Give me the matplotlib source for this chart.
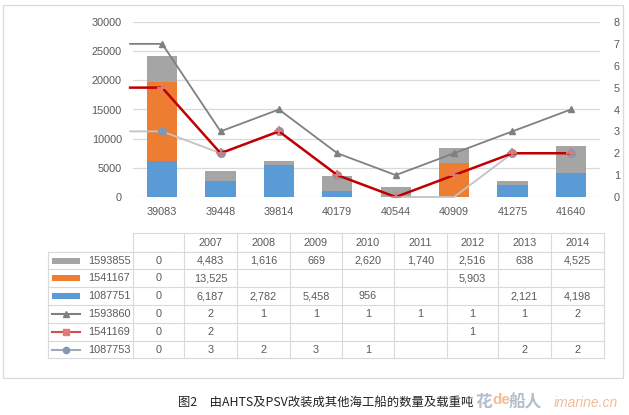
import matplotlib
matplotlib.use('Agg')
import matplotlib.pyplot as plt
import numpy as np

# ---------------- data ----------------
categories = ['39083', '39448', '39814', '40179', '40544', '40909', '41275', '41640']
years = ['2007', '2008', '2009', '2010', '2011', '2012', '2013', '2014']

series_names_bars = ['1593855', '1541167', '1087751']
bar_1593855 = [4483, 1616, 669, 2620, 1740, 2516, 638, 4525]
bar_1541167 = [13525, None, None, None, None, 5903, None, None]
bar_1087751 = [6187, 2782, 5458, 956, None, None, 2121, 4198]

series_names_lines = ['1593860', '1541169', '1087753']
line_1593860 = [2, 1, 1, 1, 1, 1, 1, 2]
line_1541169 = [2, None, None, None, None, 1, None, None]
line_1087753 = [3, 2, 3, 1, None, None, 2, 2]

first_col = '0'

# colours
c_gray_bar = '#A5A5A5'
c_orange = '#ED7D31'
c_blue = '#5B9BD5'
c_line_gray = '#808080'
c_line_red = '#C00000'
c_line_light = '#C3C3C3'
c_marker_light = '#8497B0'
c_text = '#595959'
c_grid = '#D9D9D9'

plt.rcParams['font.family'] = ['Liberation Sans', 'DejaVu Sans']

W, H = 629, 415
fig = plt.figure(figsize=(W / 100, H / 100), dpi=100)

def z(v):
    return np.array([0 if x is None else x for x in v], dtype=float)

# ---------------- chart ----------------
L, R, T, B = 133, 600, 22, 197
ax = fig.add_axes([L / W, 1 - B / H, (R - L) / W, (B - T) / H])
x = np.arange(len(categories))
b_blue = z(bar_1087751)
b_orange = z(bar_1541167)
b_gray = z(bar_1593855)
ax.bar(x, b_blue, width=0.52, color=c_blue, zorder=2)
ax.bar(x, b_orange, width=0.52, bottom=b_blue, color=c_orange, zorder=2)
ax.bar(x, b_gray, width=0.52, bottom=b_blue + b_orange, color=c_gray_bar, zorder=2)
ax.set_xlim(-0.5, len(categories) - 0.5)
ax.set_ylim(0, 30000)
ax.set_yticks(np.arange(0, 30001, 5000))
ax.set_xticks(x)
ax.set_xticklabels(categories)
ax.yaxis.grid(True, color=c_grid, lw=0.9, zorder=0)
ax.set_axisbelow(True)
for s in ax.spines.values():
    s.set_visible(False)
ax.tick_params(length=0, colors=c_text, labelsize=7.8)
ax.tick_params(axis='y', pad=8)
ax.tick_params(axis='x', pad=7)

ax2 = ax.twinx()
ax2.set_ylim(0, 8)
ax2.set_yticks(range(0, 9))
for s in ax2.spines.values():
    s.set_visible(False)
ax2.tick_params(length=0, colors=c_text, labelsize=7.8, pad=10)

l_light = z(line_1087753)
l_red = l_light + z(line_1541169)
l_gray = l_red + z(line_1593860)
xe = np.concatenate([[-0.55], x])

def ext(v):
    return np.concatenate([[v[0]], v])

ax2.plot(xe, ext(l_light), color=c_line_light, lw=1.3, zorder=3, clip_on=False)
mask = np.array([v is not None for v in line_1087753])
ax2.plot(x[mask], l_light[mask], 'o', color=c_marker_light, ms=5.5, zorder=4)
ax2.plot(xe, ext(l_red), color=c_line_red, lw=1.8, zorder=5, clip_on=False)
ax2.plot(x, l_red, '+', color='#E07B7B', ms=7, mew=1.3, zorder=6)
ax2.plot(xe, ext(l_gray), color=c_line_gray, lw=1.3, zorder=5, clip_on=False)
ax2.plot(x, l_gray, '^', color=c_line_gray, ms=5, zorder=6)

# ---------------- table & frame (pixel overlay) ----------------
ov = fig.add_axes([0, 0, 1, 1], zorder=-1)
ov.set_xlim(0, W)
ov.set_ylim(H, 0)
ov.axis('off')
ov.patch.set_alpha(0)

ov.add_patch(plt.Rectangle((3, 5), 620, 373, fill=False, ec='#D9D9D9', lw=0.9))

col_edges = [133, 184, 237, 290, 342, 394, 447, 498, 551, 604]
row_edges = [233, 252, 269, 287, 305, 323, 341, 358]
leg_left = 48
tc = '#D9D9D9'
ov.plot([col_edges[0], col_edges[-1]], [row_edges[0]] * 2, color=tc, lw=0.8)
for ry in row_edges[1:]:
    ov.plot([leg_left, col_edges[-1]], [ry, ry], color=tc, lw=0.8)
ov.plot([leg_left, leg_left], [row_edges[1], row_edges[-1]], color=tc, lw=0.8)
for cx in col_edges:
    ov.plot([cx, cx], [row_edges[0], row_edges[-1]], color=tc, lw=0.8)

centers = [(col_edges[i] + col_edges[i + 1]) / 2 for i in range(len(col_edges) - 1)]
ymid = [(row_edges[i] + row_edges[i + 1]) / 2 for i in range(len(row_edges) - 1)]
fs = 7.8
for cxp, yr in zip(centers[1:], years):
    ov.text(cxp, ymid[0], yr, ha='center', va='center', color=c_text, fontsize=fs)

rows = [
    (series_names_bars[0], bar_1593855, 'bar', c_gray_bar, None),
    (series_names_bars[1], bar_1541167, 'bar', c_orange, None),
    (series_names_bars[2], bar_1087751, 'bar', c_blue, None),
    (series_names_lines[0], line_1593860, 'line', c_line_gray, ('^', c_line_gray)),
    (series_names_lines[1], line_1541169, 'line', '#D05050', ('s', '#E07B7B')),
    (series_names_lines[2], line_1087753, 'line', '#A0A8B8', ('o', c_marker_light)),
]
for i, (name, vals, kind, col, mk) in enumerate(rows):
    yc = ymid[i + 1]
    if kind == 'bar':
        ov.add_patch(plt.Rectangle((52, yc - 3), 28, 6, color=col, lw=0))
    else:
        ov.plot([52, 80], [yc, yc], color=col, lw=1.5)
        ov.plot([66], [yc], mk[0], color=mk[1], ms=4.5)
    ov.text(88, yc, name, ha='left', va='center', color=c_text, fontsize=fs)
    ov.text(centers[0], yc, first_col, ha='center', va='center', color=c_text, fontsize=fs)
    for cxp, v in zip(centers[1:], vals):
        if v is not None:
            ov.text(cxp, yc, f'{v:,}', ha='center', va='center', color=c_text, fontsize=fs)

# caption and watermark
ov.text(178, 402, '图2　由AHTS及PSV改装成其他海工船的数量及载重吨', ha='left', va='center',
        fontsize=8.9, color='#222222', family=['Noto Sans CJK SC', 'DejaVu Sans'])
ov.text(475, 402, '花', ha='left', va='center', fontsize=12, color='#9AA8BC', alpha=0.75,
        family=['Noto Sans CJK SC'], fontweight='bold')
ov.text(492, 400, 'de', ha='left', va='center', fontsize=11, color='#F3B58A', alpha=0.9,
        fontweight='bold')
ov.text(509, 402, '船人', ha='left', va='center', fontsize=12, color='#9AA8BC', alpha=0.75,
        family=['Noto Sans CJK SC'], fontweight='bold')
ov.text(554, 403, 'imarine.cn', ha='left', va='center', fontsize=10, color='#F3B58A',
        style='italic', alpha=0.9)

fig.savefig('out.png', dpi=100)
